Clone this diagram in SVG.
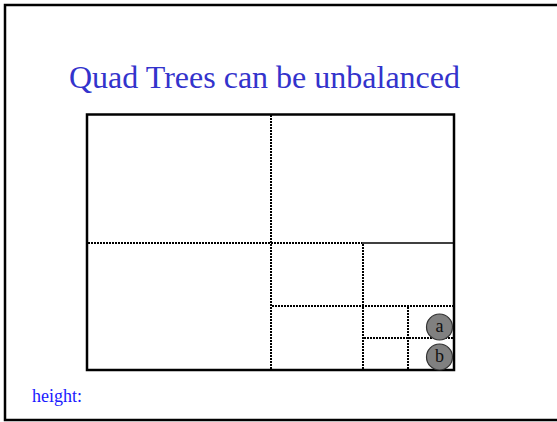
<svg xmlns="http://www.w3.org/2000/svg" width="557" height="422" viewBox="0 0 557 422">
<style>
.dot{stroke:#000;stroke-width:2;stroke-dasharray:2 1;fill:none}
.solid{stroke:#000;fill:none}
.node{fill:#808080;stroke:#333;stroke-width:1.2}
.lbl{font-family:"Liberation Serif",serif;font-size:18px;fill:#111;text-anchor:middle}
</style>
<rect x="0" y="0" width="557" height="422" fill="#fff"/>
<rect id="frame" x="5" y="5" width="560" height="415" fill="none" stroke="#000" stroke-width="2.5"/>
<text id="title" x="69" y="88" font-family="Liberation Serif, serif" font-size="32" fill="#3333CC">Quad Trees can be unbalanced</text>
<g id="connectors">
<line class="dot" x1="271" y1="115" x2="271" y2="369"/>
<line class="dot" x1="88" y1="243" x2="362" y2="243"/>
<line class="solid" stroke-width="1.5" x1="362" y1="243" x2="454" y2="243"/>
<line class="dot" x1="363" y1="244" x2="363" y2="369"/>
<line class="dot" x1="272" y1="306" x2="453" y2="306"/>
<line class="dot" x1="408" y1="307" x2="408" y2="369"/>
<line class="dot" x1="364" y1="338" x2="453" y2="338"/>
</g>
<rect id="region" x="87" y="114.5" width="367" height="255.5" fill="none" stroke="#000" stroke-width="2.5"/>
<g id="node-a"><circle class="node" cx="439.5" cy="327" r="13"/><text class="lbl" x="439.5" y="332">a</text></g>
<g id="node-b"><circle class="node" cx="439.5" cy="357" r="13"/><text class="lbl" x="439.5" y="362">b</text></g>
<text id="height" x="32" y="402" font-family="Liberation Serif, serif" font-size="18" fill="#1a1aff">height:</text>
</svg>
